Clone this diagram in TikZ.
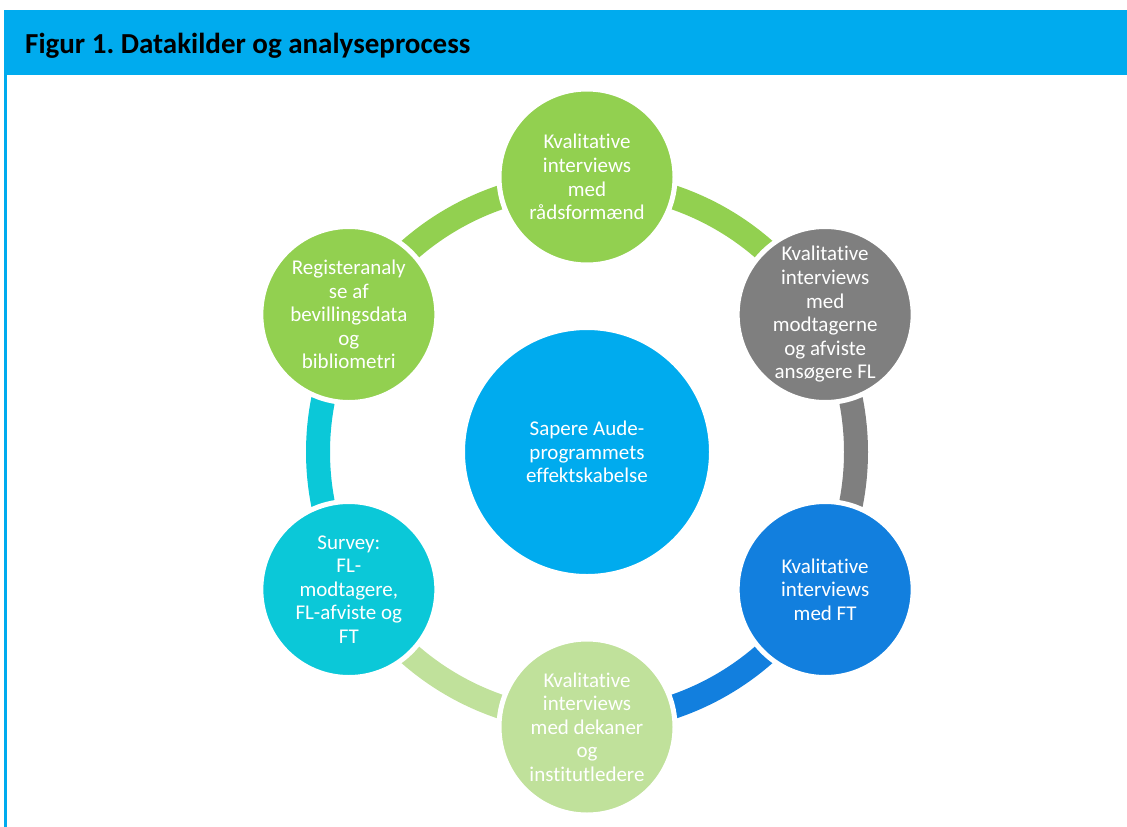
\documentclass[tikz,border=0pt]{standalone}
\usepackage{fontspec}
\setmainfont[Ligatures=NoCommon]{Carlito}
\usetikzlibrary{calc}
\frenchspacing
\definecolor{headbar}{HTML}{00ABEE}
\definecolor{hubfill}{HTML}{00ABEE}
\definecolor{stagegreen}{HTML}{92D050}
\definecolor{stagegrey}{HTML}{7F7F7F}
\definecolor{stageblue}{HTML}{127FDE}
\definecolor{stagelight}{HTML}{C0E19B}
\definecolor{stageteal}{HTML}{0BC8D8}
\tikzset{
  stage/.style={circle, draw=white, line width=5pt, minimum size=176pt,
                inner sep=0pt, align=center, text=white,
                font=\fontsize{21}{23.6}\selectfont},
  hub/.style={stage, minimum size=249pt},
  band/.style={line width=24pt},
}

\begin{document}
\begin{tikzpicture}[x=1pt, y=1pt]
    \useasboundingbox (0,0) rectangle (1127,-827);
    % header and frame
    \fill[headbar] (4,-10) rectangle (1127,-75);
    \fill[headbar] (4,-10) rectangle (7,-827);
    \node[anchor=base west, inner sep=0pt, font=\fontsize{29}{34}\selectfont\bfseries] (title) at (25,-53) {Figur 1. Datakilder og analyseprocess};
    \coordinate (o) at (587,-452);
    % ring segments
    \draw[band, stagegreen] ([shift={(90:269pt)}]o) arc[start angle=90, end angle=30, radius=269pt];
    \draw[band, stagegrey] ([shift={(30:269pt)}]o) arc[start angle=30, end angle=-30, radius=269pt];
    \draw[band, stageblue] ([shift={(-30:269pt)}]o) arc[start angle=-30, end angle=-90, radius=269pt];
    \draw[band, stagelight] ([shift={(-90:269pt)}]o) arc[start angle=-90, end angle=-150, radius=269pt];
    \draw[band, stageteal] ([shift={(210:269pt)}]o) arc[start angle=210, end angle=150, radius=269pt];
    \draw[band, stagegreen] ([shift={(150:269pt)}]o) arc[start angle=150, end angle=90, radius=269pt];
    % circles
    \node[hub, fill=hubfill] (hub) at (o) {Sapere Aude-\\programmets\\effektskabelse};
    \node[stage, fill=stagegreen] (raad) at ($(o)+(90:275pt)$) {Kvalitative\\interviews\\med\\rådsformænd};
    \node[stage, fill=stagegrey] (modt) at ($(o)+(30:275pt)$) {Kvalitative\\interviews\\med\\modtagerne\\og afviste\\ansøgere FL};
    \node[stage, fill=stageblue] (ft) at ($(o)+(-30:275pt)$) {Kvalitative\\interviews\\med FT};
    \node[stage, fill=stagelight] (dekan) at ($(o)+(-90:275pt)$) {Kvalitative\\interviews\\med dekaner\\og\\institutledere};
    \node[stage, fill=stageteal] (survey) at ($(o)+(-150:275pt)$) {Survey:\\FL-\\modtagere,\\FL-afviste og\\FT};
    \node[stage, fill=stagegreen] (regist) at ($(o)+(150:275pt)$) {Registeranaly\\se af\\bevillingsdata\\og\\bibliometri};
\end{tikzpicture}
\end{document}
